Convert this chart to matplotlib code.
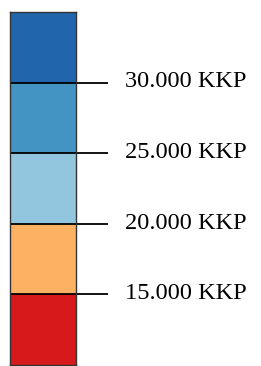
import matplotlib.pyplot as plt

# Legend classes (bottom to top)
class_colors = ['#d7191c', '#fdb163', '#92c5de', '#4393c3', '#2166ac']
thresholds = [15000, 20000, 25000, 30000]
tick_labels = ['15.000 KKP', '20.000 KKP', '25.000 KKP', '30.000 KKP']

fig = plt.figure(figsize=(2.61, 3.66), dpi=100)
ax = fig.add_axes([10 / 261, 1 / 366, 66 / 261, 353 / 366])

positions = list(range(len(class_colors)))
ax.bar([0.5] * len(class_colors), [1] * len(class_colors), width=1, bottom=positions,
       color=class_colors, edgecolor='none')

for i, (t, lab) in enumerate(zip(thresholds, tick_labels)):
    y = i + 1
    ax.plot([0, 1.485], [y, y], color='black', lw=1.3, clip_on=False, solid_capstyle='butt')
    ax.text(1.745, y - 0.067, lab, va='baseline', ha='left', fontsize=17.6,
            family='Liberation Serif')

ax.set_xlim(0, 1)
ax.set_ylim(0, len(class_colors))
ax.set_xticks([])
ax.set_yticks([])
for s in ax.spines.values():
    s.set_color('#333333')
    s.set_linewidth(1.0)

fig.savefig('out.png', dpi=100)
